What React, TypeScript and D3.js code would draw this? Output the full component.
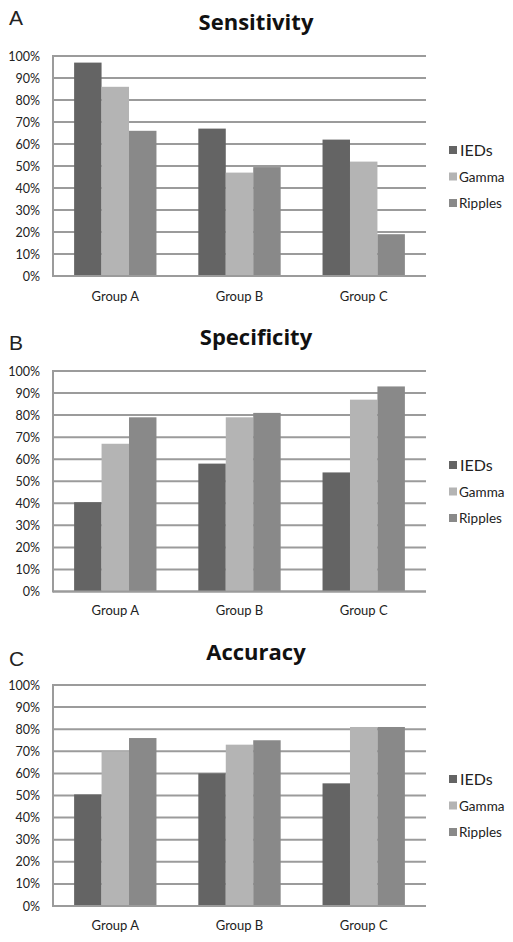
import React from "react";
import * as d3 from "d3";

const groups = ["Group A", "Group B", "Group C"];
const seriesNames = ["IEDs", "Gamma", "Ripples"];
const seriesColors = ["#646464", "#b4b4b4", "#898989"];
const yTicks = [0, 10, 20, 30, 40, 50, 60, 70, 80, 90, 100];

const sensitivityIEDs = [97, 67, 62];
const sensitivityGamma = [86, 47, 52];
const sensitivityRipples = [66, 49.5, 19];

const specificityIEDs = [40.5, 58, 54];
const specificityGamma = [67, 79, 87];
const specificityRipples = [79, 81, 93];

const accuracyIEDs = [50.5, 60, 55.5];
const accuracyGamma = [70, 73, 81];
const accuracyRipples = [76, 75, 81];

const panels = [
  { letter: "A", title: "Sensitivity", values: [sensitivityIEDs, sensitivityGamma, sensitivityRipples], top: 56, bottom: 276, letterY: 25, titleY: 30, groupY: 301 },
  { letter: "B", title: "Specificity", values: [specificityIEDs, specificityGamma, specificityRipples], top: 371, bottom: 591.5, letterY: 350, titleY: 345, groupY: 615 },
  { letter: "C", title: "Accuracy", values: [accuracyIEDs, accuracyGamma, accuracyRipples], top: 685, bottom: 906, letterY: 666, titleY: 660, groupY: 930 },
];

const LEFT = 53;
const RIGHT = 426;
const FONT = "Lato, 'Open Sans', sans-serif";

function Panel({ p }: { p: typeof panels[number] }) {
  const x0 = d3.scaleBand<string>().domain(groups).range([LEFT, RIGHT]).paddingInner(0.337).paddingOuter(0.17);
  const x1 = d3.scaleBand<string>().domain(seriesNames).range([0, x0.bandwidth()]);
  const y = d3.scaleLinear().domain([0, 100]).range([p.bottom, p.top]);
  const grid = "#9b9b9b";
  return (
    <g>
      <text x={9} y={p.letterY} fontFamily="'Liberation Sans', Arial, sans-serif" fontSize={21} fill="#222">{p.letter}</text>
      <text x={256} y={p.titleY} textAnchor="middle" fontFamily="'Open Sans', sans-serif" fontWeight={700} fontSize={22} fill="#111">{p.title}</text>
      {yTicks.map((t) => (
        <g key={t}>
          <line x1={LEFT} x2={RIGHT} y1={y(t)} y2={y(t)} stroke={grid} strokeWidth={2} />
          <text x={40} y={y(t) + 4.5} textAnchor="end" fontFamily={FONT} fontSize={12.5} fill="#222">{t + "%"}</text>
        </g>
      ))}
      {groups.map((g, gi) => (
        <g key={g}>
          {seriesNames.map((s, si) => (
            <rect key={s} x={(x0(g) ?? 0) + (x1(s) ?? 0)} y={y(p.values[si][gi])} width={x1.bandwidth()} height={p.bottom - y(p.values[si][gi])} fill={seriesColors[si]} />
          ))}
          <text x={(x0(g) ?? 0) + x0.bandwidth() / 2} y={p.groupY} textAnchor="middle" fontFamily={FONT} fontSize={13} fill="#222">{g}</text>
        </g>
      ))}
      <line x1={LEFT} x2={RIGHT} y1={p.bottom} y2={p.bottom} stroke={grid} strokeWidth={2} />
      <line x1={LEFT} x2={LEFT} y1={p.top - 1} y2={p.bottom + 1} stroke={grid} strokeWidth={2} />
      {seriesNames.map((s, si) => {
        const cy = p.top + 94 + si * 26.5;
        return (
          <g key={s}>
            <rect x={449} y={cy - 4} width={8} height={8} fill={seriesColors[si]} />
            <text x={si === 0 ? 460 : 459} y={cy + (si === 0 ? 5.5 : 5)} fontFamily={FONT} fontSize={si === 0 ? 16 : 13.5} fill="#222">{s}</text>
          </g>
        );
      })}
    </g>
  );
}

export default function App() {
  return (
    <svg width={513} height={942} style={{ position: "absolute", left: 0, top: 0, background: "#fff" }}>
      <rect width={513} height={942} fill="#fff" />
      {panels.map((p) => (
        <Panel key={p.letter} p={p} />
      ))}
    </svg>
  );
}
